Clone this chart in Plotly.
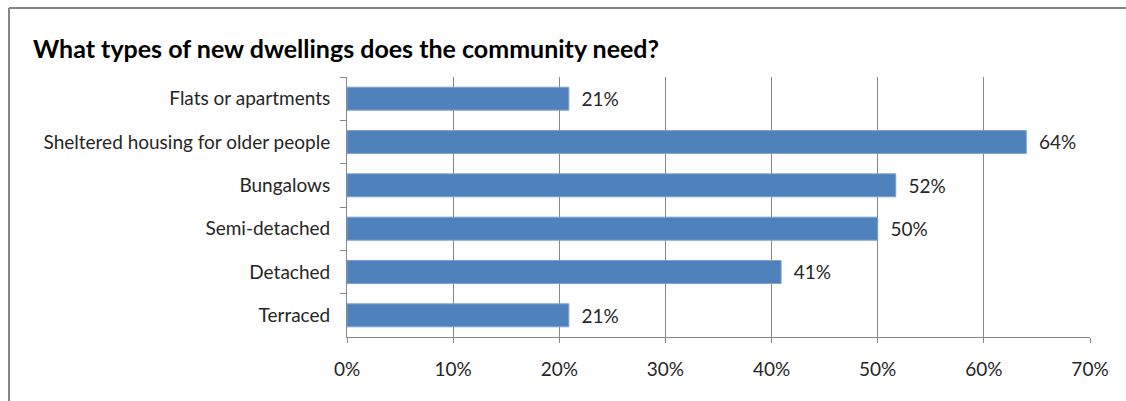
import plotly.graph_objects as go

categories = ["Flats or apartments", "Sheltered housing for older people", "Bungalows",
              "Semi-detached", "Detached", "Terraced"]
values = [20.9, 64.0, 51.7, 50.0, 40.9, 20.9]
x_ticks = [0, 10, 20, 30, 40, 50, 60, 70]
x_tick_labels = ["0%", "10%", "20%", "30%", "40%", "50%", "60%", "70%"]
title_text = "What types of new dwellings does the community need?"

W, H = 1126, 401
ml, mr, mt, mb = 347, 36, 77, 64
pw, ph = W - ml - mr, H - mt - mb

def px_x(p):
    return (p - ml) / pw

def px_y(p):
    return (H - mb - p) / ph

FONT = "Lato"
TXT = "#262626"
GRID = "#888888"

fig = go.Figure(go.Bar(
    x=values, y=categories, orientation="h",
    marker=dict(color="#4F81BD", line=dict(color="#7FA2D0", width=1)),
    text=values, texttemplate="\u00a0\u00a0%{x:.0f}%", textposition="outside",
    textfont=dict(family=FONT, size=19, color=TXT), cliponaxis=False,
    hoverinfo="skip",
))

fig.update_layout(
    width=W, height=H, margin=dict(l=ml, r=mr, t=mt, b=mb, autoexpand=False),
    plot_bgcolor="white", paper_bgcolor="white", bargap=0.47, showlegend=False,
    font=dict(family=FONT, size=19, color=TXT),
)
fig.update_xaxes(
    range=[0, 70], tickvals=x_ticks, ticktext=x_tick_labels,
    showgrid=True, gridcolor=GRID, gridwidth=1,
    showline=True, linecolor=GRID, linewidth=1,
    ticks="outside", ticklen=5, tickcolor=GRID, ticklabelstandoff=10,
    tickfont=dict(family=FONT, size=19, color=TXT), zeroline=False, fixedrange=True,
)
fig.update_yaxes(
    autorange="reversed", showgrid=False, showline=True, linecolor=GRID, linewidth=1,
    ticks="outside", ticklen=6, tickcolor=GRID, tickson="boundaries",
    ticklabelstandoff=12, tickfont=dict(family=FONT, size=19, color=TXT), fixedrange=True,
)

# Outer chart border (left and top edges visible)
fig.add_shape(type="line", xref="paper", yref="paper",
              x0=px_x(9), x1=px_x(W + 5), y0=px_y(8), y1=px_y(8),
              line=dict(color="#868686", width=2))
fig.add_shape(type="line", xref="paper", yref="paper",
              x0=px_x(9), x1=px_x(9), y0=px_y(8), y1=px_y(H + 5),
              line=dict(color="#868686", width=2))

fig.add_annotation(text="<b>" + title_text + "</b>", xref="paper", yref="paper",
                   x=px_x(31), y=px_y(48), xanchor="left", yanchor="middle",
                   showarrow=False, font=dict(family=FONT, size=25, color="#000000"))

fig.write_html("out.html")
